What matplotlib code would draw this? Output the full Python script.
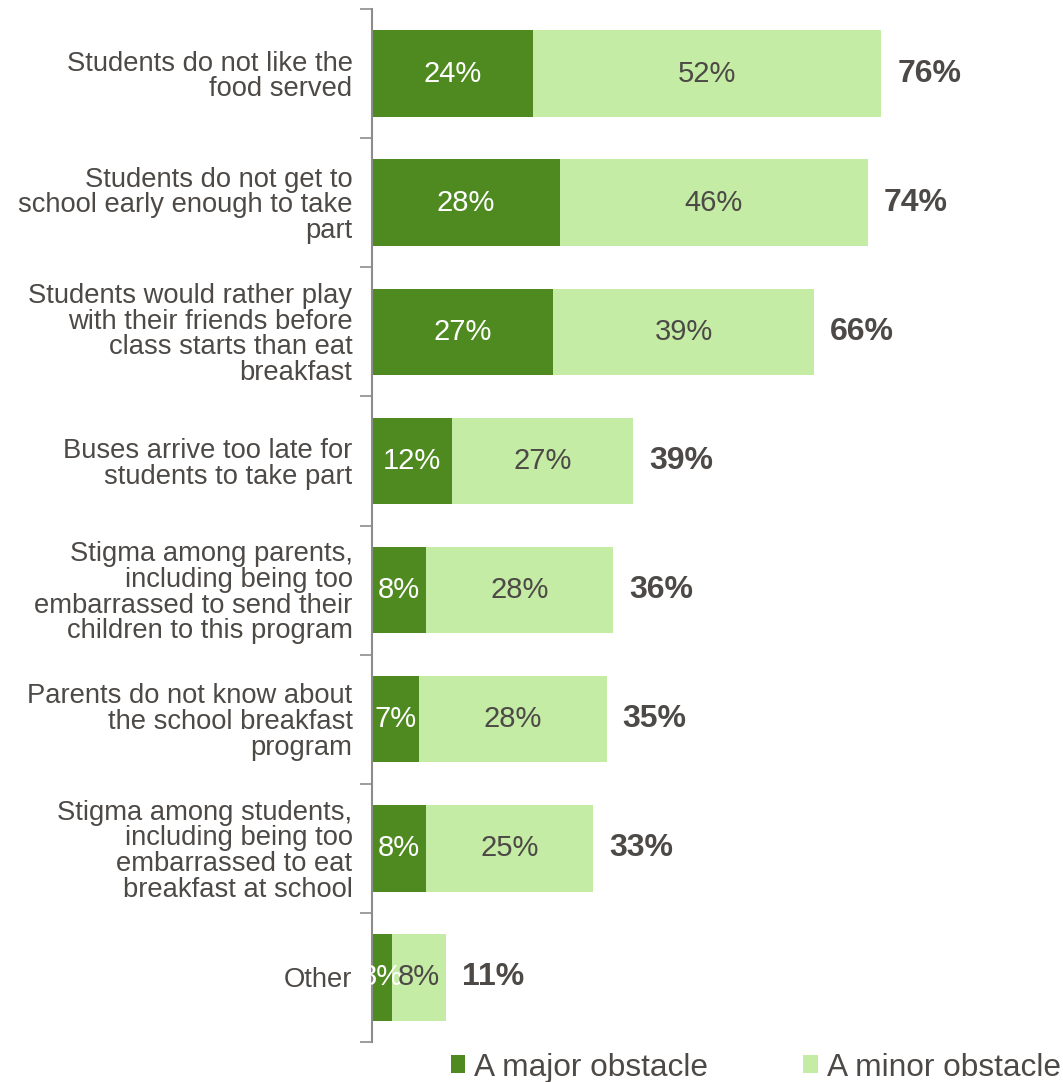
import matplotlib
matplotlib.use("Agg")
import matplotlib.pyplot as plt
from matplotlib.patches import Patch

plt.rcParams['font.family'] = ['Liberation Sans', 'DejaVu Sans']

categories = [
    "Students do not like the\nfood served",
    "Students do not get to\nschool early enough to take\npart",
    "Students would rather play\nwith their friends before\nclass starts than eat\nbreakfast",
    "Buses arrive too late for\nstudents to take part",
    "Stigma among parents,\nincluding being too\nembarrassed to send their\nchildren to this program",
    "Parents do not know about\nthe school breakfast\nprogram",
    "Stigma among students,\nincluding being too\nembarrassed to eat\nbreakfast at school",
    "Other",
]
major = [24, 28, 27, 12, 8, 7, 8, 3]
minor = [52, 46, 39, 27, 28, 28, 25, 8]
series_names = ["A major obstacle", "A minor obstacle"]

DARK = "#4F8A20"
LIGHT = "#C4ECA5"
TEXT = "#4D4946"
SPINE = "#8C8C8C"

fig = plt.figure(figsize=(10.63, 10.82), dpi=100)
ax = fig.add_axes([372 / 1063, 1 - 1042 / 1082, 1 - 372 / 1063, (1042 - 9) / 1082])

n = len(categories)
y = list(range(n))
h = 0.67
ax.barh(y, major, height=h, color=DARK, linewidth=0)
ax.barh(y, minor, left=major, height=h, color=LIGHT, linewidth=0)

for i in range(n):
    tot = major[i] + minor[i]
    ax.text(major[i] / 2, i, f"{major[i]}%", ha="center", va="center",
            color="white", fontsize=21)
    ax.text(major[i] + minor[i] / 2, i, f"{minor[i]}%", ha="center", va="center",
            color=TEXT, fontsize=21)
    ax.text(tot + 2.4, i, f"{tot}%", ha="left", va="center",
            color=TEXT, fontsize=23, fontweight="bold")

ax.set_xlim(0, (1063 - 372) / 6.7)
ax.set_ylim(n - 0.5, -0.5)
ax.set_xticks([])
ax.set_yticks(y)
ax.set_yticklabels(categories, fontsize=19.7, color=TEXT, linespacing=0.98)
ax.tick_params(axis="y", which="major", length=0, pad=14)
ax.set_yticks([i - 0.5 for i in range(n + 1)], minor=True)
ax.tick_params(axis="y", which="minor", length=9, width=1.2, color=SPINE, direction="out")

for s in ["top", "right", "bottom"]:
    ax.spines[s].set_visible(False)
ax.spines["left"].set_color(SPINE)
ax.spines["left"].set_linewidth(1.5)

handles = [Patch(facecolor=DARK, edgecolor="none"), Patch(facecolor=LIGHT, edgecolor="none")]
fig.legend(handles, series_names, loc="lower right", bbox_to_anchor=(1.025, -0.027),
           ncol=2, frameon=False, fontsize=22.8, labelcolor=TEXT,
           handlelength=0.45, handleheight=0.5, handletextpad=0.3, columnspacing=3.0)

fig.savefig("out.png", dpi=100)
